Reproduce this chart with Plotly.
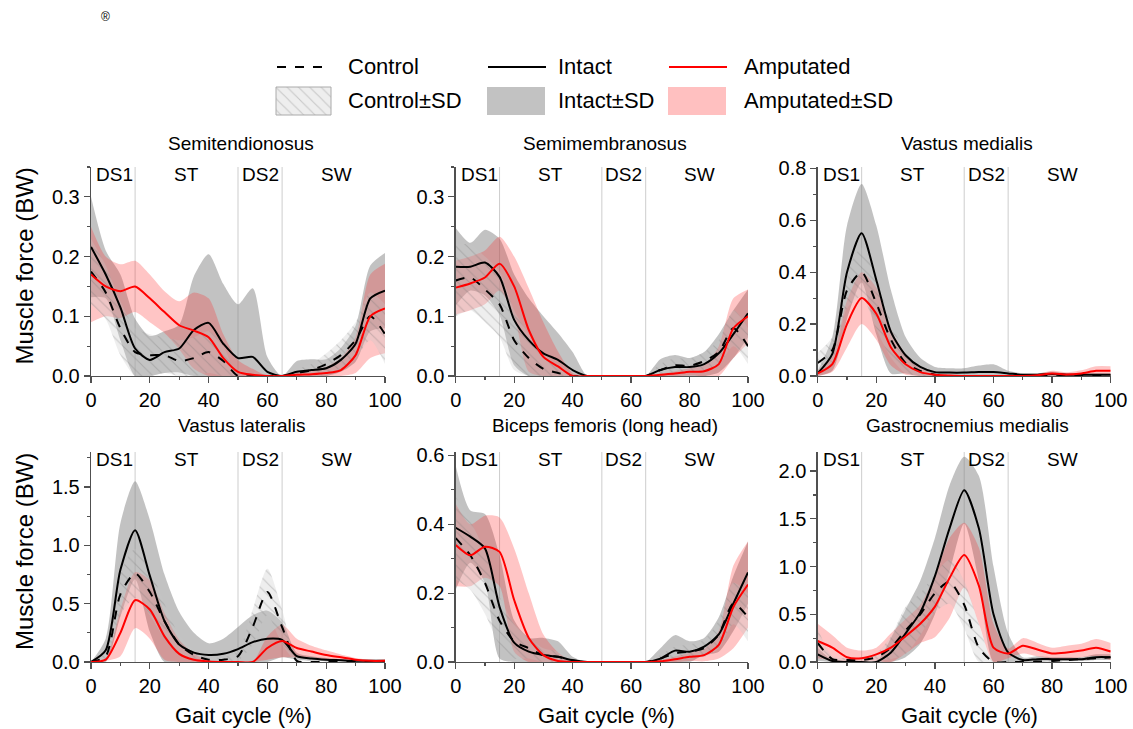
import plotly.graph_objects as go

W, H = 1133, 729

# ---------------- data (gait cycle %, muscle force in BW) ----------------
GAIT = [0, 5, 10, 15, 20, 25, 30, 35, 40, 45, 50, 55, 60, 65, 70, 75, 80, 85, 90, 95, 100]
PHASES = ["DS1", "ST", "DS2", "SW"]
PHASE_CENTERS = [8, 32.5, 57.5, 83.5]
PHASE_BOUNDS = [15, 50, 65]
TITLES = ["Semitendionosus", "Semimembranosus", "Vastus medialis",
          "Vastus lateralis", "Biceps femoris (long head)", "Gastrocnemius medialis"]

# Semitendinosus
ST_CTRL = [0.175, 0.140, 0.080, 0.040, 0.035, 0.035, 0.025, 0.030, 0.040, 0.025, 0.000, 0.000, 0.000, 0.000, 0.005, 0.010, 0.020, 0.035, 0.060, 0.100, 0.070]
ST_CTRL_SD = [0.055, 0.045, 0.045, 0.040, 0.035, 0.030, 0.035, 0.035, 0.035, 0.025, 0.000, 0.000, 0.000, 0.000, 0.006, 0.010, 0.018, 0.025, 0.030, 0.040, 0.050]
ST_INT = [0.216, 0.170, 0.115, 0.046, 0.027, 0.040, 0.046, 0.077, 0.089, 0.054, 0.030, 0.032, 0.007, 0.000, 0.007, 0.010, 0.013, 0.027, 0.054, 0.130, 0.143]
ST_INT_SD = [0.084, 0.040, 0.055, 0.050, 0.040, 0.035, 0.040, 0.090, 0.115, 0.100, 0.090, 0.115, 0.025, 0.000, 0.018, 0.018, 0.015, 0.020, 0.030, 0.055, 0.063]
ST_AMP = [0.170, 0.150, 0.142, 0.150, 0.130, 0.107, 0.085, 0.076, 0.065, 0.030, 0.007, 0.002, 0.000, 0.000, 0.002, 0.003, 0.005, 0.010, 0.035, 0.100, 0.113]
ST_AMP_SD = [0.080, 0.050, 0.045, 0.043, 0.040, 0.035, 0.040, 0.064, 0.065, 0.040, 0.020, 0.010, 0.000, 0.000, 0.005, 0.008, 0.010, 0.020, 0.030, 0.070, 0.075]

# Semimembranosus
SM_CTRL = [0.160, 0.165, 0.145, 0.120, 0.060, 0.030, 0.012, 0.005, 0.000, 0.000, 0.000, 0.000, 0.000, 0.000, 0.010, 0.018, 0.017, 0.025, 0.040, 0.080, 0.050]
SM_CTRL_SD = [0.060, 0.055, 0.055, 0.055, 0.050, 0.040, 0.025, 0.012, 0.000, 0.000, 0.000, 0.000, 0.000, 0.000, 0.010, 0.012, 0.012, 0.015, 0.020, 0.030, 0.030]
SM_INT = [0.183, 0.183, 0.190, 0.166, 0.094, 0.060, 0.038, 0.027, 0.010, 0.000, 0.000, 0.000, 0.000, 0.000, 0.010, 0.015, 0.015, 0.020, 0.038, 0.070, 0.105]
SM_INT_SD = [0.065, 0.040, 0.055, 0.064, 0.076, 0.070, 0.062, 0.045, 0.030, 0.000, 0.000, 0.000, 0.000, 0.000, 0.018, 0.020, 0.015, 0.020, 0.032, 0.040, 0.040]
SM_AMP = [0.148, 0.155, 0.165, 0.188, 0.150, 0.077, 0.032, 0.016, 0.000, 0.000, 0.000, 0.000, 0.000, 0.000, 0.002, 0.004, 0.007, 0.008, 0.020, 0.080, 0.100]
SM_AMP_SD = [0.045, 0.045, 0.045, 0.045, 0.050, 0.070, 0.058, 0.025, 0.005, 0.000, 0.000, 0.000, 0.000, 0.000, 0.002, 0.004, 0.006, 0.010, 0.030, 0.050, 0.045]

# Vastus medialis
VM_CTRL = [0.050, 0.100, 0.330, 0.400, 0.280, 0.140, 0.050, 0.020, 0.005, 0.000, 0.000, 0.000, 0.000, 0.000, 0.000, 0.002, 0.005, 0.003, 0.003, 0.003, 0.003]
VM_CTRL_SD = [0.040, 0.050, 0.070, 0.095, 0.100, 0.070, 0.040, 0.020, 0.010, 0.005, 0.000, 0.000, 0.000, 0.000, 0.000, 0.003, 0.005, 0.004, 0.004, 0.004, 0.004]
VM_INT = [0.010, 0.085, 0.400, 0.550, 0.370, 0.170, 0.080, 0.035, 0.015, 0.013, 0.013, 0.015, 0.015, 0.010, 0.005, 0.005, 0.008, 0.005, 0.005, 0.005, 0.005]
VM_INT_SD = [0.010, 0.065, 0.180, 0.190, 0.210, 0.160, 0.070, 0.035, 0.020, 0.017, 0.017, 0.025, 0.030, 0.010, 0.005, 0.005, 0.008, 0.005, 0.005, 0.005, 0.005]
VM_AMP = [0.010, 0.046, 0.200, 0.300, 0.240, 0.110, 0.045, 0.015, 0.005, 0.002, 0.000, 0.000, 0.000, 0.000, 0.000, 0.003, 0.010, 0.006, 0.010, 0.020, 0.020]
VM_AMP_SD = [0.010, 0.030, 0.090, 0.100, 0.100, 0.070, 0.040, 0.015, 0.005, 0.002, 0.000, 0.000, 0.000, 0.000, 0.000, 0.005, 0.010, 0.008, 0.012, 0.018, 0.018]

# Vastus lateralis
VL_CTRL = [0.000, 0.050, 0.580, 0.760, 0.600, 0.350, 0.150, 0.060, 0.020, 0.020, 0.050, 0.300, 0.600, 0.300, 0.010, 0.000, 0.000, 0.000, 0.000, 0.000, 0.000]
VL_CTRL_SD = [0.000, 0.030, 0.180, 0.210, 0.200, 0.150, 0.080, 0.040, 0.020, 0.020, 0.040, 0.150, 0.200, 0.150, 0.010, 0.000, 0.000, 0.000, 0.000, 0.000, 0.000]
VL_INT = [0.000, 0.100, 0.790, 1.130, 0.740, 0.350, 0.150, 0.080, 0.060, 0.070, 0.110, 0.170, 0.200, 0.190, 0.050, 0.030, 0.020, 0.015, 0.010, 0.010, 0.010]
VL_INT_SD = [0.000, 0.100, 0.400, 0.420, 0.480, 0.400, 0.280, 0.170, 0.100, 0.130, 0.190, 0.230, 0.240, 0.150, 0.030, 0.020, 0.015, 0.010, 0.008, 0.008, 0.008]
VL_AMP = [0.000, 0.020, 0.250, 0.530, 0.450, 0.220, 0.070, 0.020, 0.005, 0.000, 0.000, 0.000, 0.120, 0.180, 0.120, 0.090, 0.060, 0.040, 0.020, 0.010, 0.010]
VL_AMP_SD = [0.000, 0.010, 0.200, 0.240, 0.250, 0.200, 0.120, 0.050, 0.010, 0.000, 0.000, 0.000, 0.100, 0.140, 0.080, 0.050, 0.040, 0.025, 0.015, 0.010, 0.010]

# Biceps femoris (long head)
BF_CTRL = [0.360, 0.310, 0.230, 0.120, 0.060, 0.040, 0.020, 0.015, 0.005, 0.000, 0.000, 0.000, 0.000, 0.000, 0.010, 0.025, 0.030, 0.040, 0.080, 0.170, 0.130]
BF_CTRL_SD = [0.120, 0.100, 0.090, 0.070, 0.050, 0.030, 0.020, 0.015, 0.005, 0.000, 0.000, 0.000, 0.000, 0.000, 0.010, 0.020, 0.020, 0.025, 0.040, 0.060, 0.070]
BF_INT = [0.390, 0.364, 0.330, 0.160, 0.056, 0.030, 0.020, 0.015, 0.005, 0.000, 0.000, 0.000, 0.000, 0.000, 0.010, 0.033, 0.030, 0.045, 0.080, 0.170, 0.260]
BF_INT_SD = [0.180, 0.076, 0.100, 0.150, 0.065, 0.040, 0.050, 0.045, 0.010, 0.000, 0.000, 0.000, 0.000, 0.000, 0.030, 0.045, 0.030, 0.025, 0.050, 0.080, 0.090]
BF_AMP = [0.340, 0.310, 0.335, 0.320, 0.180, 0.070, 0.020, 0.003, 0.000, 0.000, 0.000, 0.000, 0.000, 0.000, 0.002, 0.008, 0.015, 0.020, 0.050, 0.160, 0.225]
BF_AMP_SD = [0.120, 0.090, 0.090, 0.100, 0.150, 0.130, 0.060, 0.025, 0.000, 0.000, 0.000, 0.000, 0.000, 0.000, 0.003, 0.008, 0.012, 0.018, 0.040, 0.120, 0.125]

# Gastrocnemius medialis
GM_CTRL = [0.200, 0.030, 0.020, 0.020, 0.050, 0.150, 0.330, 0.500, 0.720, 0.840, 0.600, 0.150, 0.000, 0.000, 0.000, 0.005, 0.010, 0.020, 0.030, 0.040, 0.050]
GM_CTRL_SD = [0.150, 0.030, 0.020, 0.020, 0.040, 0.120, 0.250, 0.220, 0.200, 0.230, 0.250, 0.250, 0.000, 0.000, 0.000, 0.005, 0.010, 0.015, 0.020, 0.020, 0.020]
GM_INT = [0.080, 0.010, 0.000, 0.000, 0.000, 0.100, 0.300, 0.520, 0.900, 1.400, 1.800, 1.400, 0.500, 0.100, 0.020, 0.030, 0.030, 0.030, 0.030, 0.050, 0.050]
GM_INT_SD = [0.070, 0.010, 0.000, 0.000, 0.000, 0.150, 0.250, 0.330, 0.400, 0.450, 0.350, 0.550, 0.500, 0.200, 0.030, 0.030, 0.020, 0.020, 0.020, 0.030, 0.030]
GM_AMP = [0.220, 0.150, 0.050, 0.040, 0.080, 0.150, 0.270, 0.400, 0.580, 0.880, 1.120, 0.800, 0.150, 0.090, 0.170, 0.130, 0.090, 0.100, 0.120, 0.150, 0.110]
GM_AMP_SD = [0.180, 0.130, 0.100, 0.080, 0.070, 0.150, 0.180, 0.200, 0.320, 0.420, 0.340, 0.400, 0.250, 0.050, 0.080, 0.070, 0.060, 0.070, 0.070, 0.090, 0.090]

Y_MAX = [0.35, 0.35, 0.805, 1.8, 0.61, 2.2]
Y_DTICK = [0.1, 0.1, 0.2, 0.5, 0.2, 0.5]

PANELS = [
    (ST_CTRL, ST_CTRL_SD, ST_INT, ST_INT_SD, ST_AMP, ST_AMP_SD),
    (SM_CTRL, SM_CTRL_SD, SM_INT, SM_INT_SD, SM_AMP, SM_AMP_SD),
    (VM_CTRL, VM_CTRL_SD, VM_INT, VM_INT_SD, VM_AMP, VM_AMP_SD),
    (VL_CTRL, VL_CTRL_SD, VL_INT, VL_INT_SD, VL_AMP, VL_AMP_SD),
    (BF_CTRL, BF_CTRL_SD, BF_INT, BF_INT_SD, BF_AMP, BF_AMP_SD),
    (GM_CTRL, GM_CTRL_SD, GM_INT, GM_INT_SD, GM_AMP, GM_AMP_SD),
]

# ---------------- styling ----------------
FONT = "Arial, Liberation Sans, sans-serif"
AXC = "#505050"
GRAY_FILL = "rgba(128,128,128,0.48)"
PINK_FILL = "rgba(255,40,40,0.27)"
HATCH = dict(shape="\\", fgcolor="rgba(110,110,110,0.6)", bgcolor="rgba(200,200,200,0.3)",
             size=8, solidity=0.14)
SPL = dict(shape="spline", smoothing=0.7)

COL_X = [(91, 385), (455.7, 748), (817.7, 1110.7)]
ROW_Y = [(167, 376), (452, 662)]

fig = go.Figure()
layout = dict(width=W, height=H, margin=dict(l=0, r=0, t=0, b=0, pad=0, autoexpand=False),
              autosize=False,
              paper_bgcolor="white", plot_bgcolor="rgba(0,0,0,0)", showlegend=False,
              font=dict(family=FONT, color="black"))
annotations = []
shapes = []

for i, data in enumerate(PANELS):
    n = i + 1
    r, c = divmod(i, 3)
    xa = "x" if n == 1 else f"x{n}"
    ya = "y" if n == 1 else f"y{n}"
    x0, x1 = COL_X[c]
    top, bot = ROW_Y[r]
    layout["xaxis" if n == 1 else f"xaxis{n}"] = dict(
        domain=[x0 / W, x1 / W], anchor=ya, range=[0, 100], dtick=20, tick0=0,
        automargin=False,
        showline=True, linecolor=AXC, linewidth=1.3, ticks="outside", ticklen=6,
        tickcolor=AXC, tickwidth=1.2, showgrid=False, zeroline=False,
        tickfont=dict(size=20, family=FONT, color="black"),
        minor=dict(ticks="outside", ticklen=3, dtick=10, tickcolor=AXC, showgrid=False),
        fixedrange=True)
    layout["yaxis" if n == 1 else f"yaxis{n}"] = dict(
        domain=[1 - bot / H, 1 - top / H], anchor=xa, range=[0, Y_MAX[i]],
        dtick=Y_DTICK[i], tick0=0, tickformat=".1f", automargin=False,
        showline=True, linecolor=AXC, linewidth=1.3, ticks="outside", ticklen=6,
        tickcolor=AXC, tickwidth=1.2, showgrid=False, zeroline=False,
        tickfont=dict(size=20, family=FONT, color="black"),
        minor=dict(ticks="outside", ticklen=3, dtick=Y_DTICK[i] / 2, tickcolor=AXC, showgrid=False),
        fixedrange=True)

    ctrl, ctrl_sd, intact, intact_sd, amp, amp_sd = data

    def band(mean, sd, **fillkw):
        lo = [max(m - s, 0.0) for m, s in zip(mean, sd)]
        hi = [m + s for m, s in zip(mean, sd)]
        fig.add_trace(go.Scatter(x=GAIT, y=lo, mode="lines", line=dict(width=0, **SPL),
                                 xaxis=xa, yaxis=ya, hoverinfo="skip"))
        fig.add_trace(go.Scatter(x=GAIT, y=hi, mode="lines", line=dict(width=0, **SPL),
                                 fill="tonexty", xaxis=xa, yaxis=ya, hoverinfo="skip", **fillkw))

    band(intact, intact_sd, fillcolor=GRAY_FILL)
    band(amp, amp_sd, fillcolor=PINK_FILL)
    band(ctrl, ctrl_sd, fillcolor="rgba(200,200,200,0.3)", fillpattern=HATCH)

    fig.add_trace(go.Scatter(x=GAIT, y=ctrl, mode="lines", xaxis=xa, yaxis=ya,
                             line=dict(color="black", width=2, dash="dash", **SPL)))
    fig.add_trace(go.Scatter(x=GAIT, y=intact, mode="lines", xaxis=xa, yaxis=ya,
                             line=dict(color="black", width=2, **SPL)))
    fig.add_trace(go.Scatter(x=GAIT, y=amp, mode="lines", xaxis=xa, yaxis=ya,
                             line=dict(color="#ff0000", width=2, **SPL)))

    for b in PHASE_BOUNDS:
        shapes.append(dict(type="line", xref=xa, yref=f"{ya} domain", x0=b, x1=b, y0=0, y1=1,
                           line=dict(color="rgb(205,205,205)", width=1), layer="below"))
    for lab, pc in zip(PHASES, PHASE_CENTERS):
        annotations.append(dict(text=lab, xref=xa, yref="paper", x=pc, y=1 - (top + 7) / H,
                                xanchor="center", yanchor="middle", showarrow=False,
                                font=dict(size=19, family=FONT, color="black")))
    title_y = 143 if r == 0 else 425
    annotations.append(dict(text=TITLES[i], xref="paper", yref="paper",
                            x=((x0 + x1) / 2 + 3) / W, y=1 - title_y / H,
                            xanchor="center", yanchor="middle", showarrow=False,
                            font=dict(size=19, family=FONT, color="black")))
    if r == 1:
        annotations.append(dict(text="Gait cycle (%)", xref="paper", yref="paper",
                                x=((x0 + x1) / 2 + 5) / W, y=1 - 715 / H,
                                xanchor="center", yanchor="middle", showarrow=False,
                                font=dict(size=22, family=FONT, color="black")))
    if c == 0:
        annotations.append(dict(text="Muscle force (BW)", xref="paper", yref="paper",
                                x=24 / W, y=1 - ((top + bot) / 2 - 5) / H, textangle=-90,
                                xanchor="center", yanchor="middle", showarrow=False,
                                font=dict(size=24, family=FONT, color="black")))

# ---------------- legend (drawn on a hidden pixel-space axis above the panels) ----------------
LX0, LX1, LY0, LY1 = 250, 950, 50, 125
layout["xaxis7"] = dict(domain=[LX0 / W, LX1 / W], range=[LX0, LX1], visible=False,
                        fixedrange=True, anchor="y7", automargin=False)
layout["yaxis7"] = dict(domain=[1 - LY1 / H, 1 - LY0 / H], range=[LY1, LY0], visible=False,
                        fixedrange=True, anchor="x7", automargin=False)

LEG_LINE_Y = 67
LEG_BOX_Y = (87, 115)
leg_lines = [((277, 330), dict(color="black", width=2, dash="dash")),
             ((488, 546), dict(color="black", width=2)),
             ((669, 727), dict(color="#ff0000", width=2))]
for (a, b), ln in leg_lines:
    fig.add_trace(go.Scatter(x=[a, b], y=[LEG_LINE_Y, LEG_LINE_Y], mode="lines", line=ln,
                             xaxis="x7", yaxis="y7", hoverinfo="skip"))
leg_boxes = [((276, 331), dict(fillcolor="rgba(225,225,225,0.6)", fillpattern=HATCH,
                               line=dict(color="rgb(170,170,170)", width=1))),
             ((487, 545), dict(fillcolor="rgb(194,194,194)", line=dict(width=0))),
             ((668, 726), dict(fillcolor="rgb(255,192,192)", line=dict(width=0)))]
for (a, b), kw in leg_boxes:
    y0, y1 = LEG_BOX_Y
    fig.add_trace(go.Scatter(x=[a, b, b, a, a], y=[y0, y0, y1, y1, y0], mode="lines",
                             fill="toself", xaxis="x7", yaxis="y7", hoverinfo="skip", **kw))

leg_texts = [("Control", 346, LEG_LINE_Y), ("Intact", 556, LEG_LINE_Y), ("Amputated", 742, LEG_LINE_Y),
             ("Control±SD", 346, 101), ("Intact±SD", 556, 101), ("Amputated±SD", 742, 101)]
for t, x, y in leg_texts:
    annotations.append(dict(text=t, xref="paper", yref="paper", x=x / W, y=1 - y / H,
                            xanchor="left", yanchor="middle", showarrow=False,
                            font=dict(size=22, family=FONT, color="black")))

annotations.append(dict(text="®", xref="paper", yref="paper", x=105 / W, y=1 - 17 / H,
                        xanchor="center", yanchor="middle", showarrow=False,
                        font=dict(size=12, family="Liberation Sans", color="black")))

layout["annotations"] = annotations
layout["shapes"] = shapes
fig.update_layout(**layout)
fig.write_html("out.html", config={"displayModeBar": False, "staticPlot": True},
               post_script="document.body.style.margin='0px';document.body.style.overflow='hidden';")
